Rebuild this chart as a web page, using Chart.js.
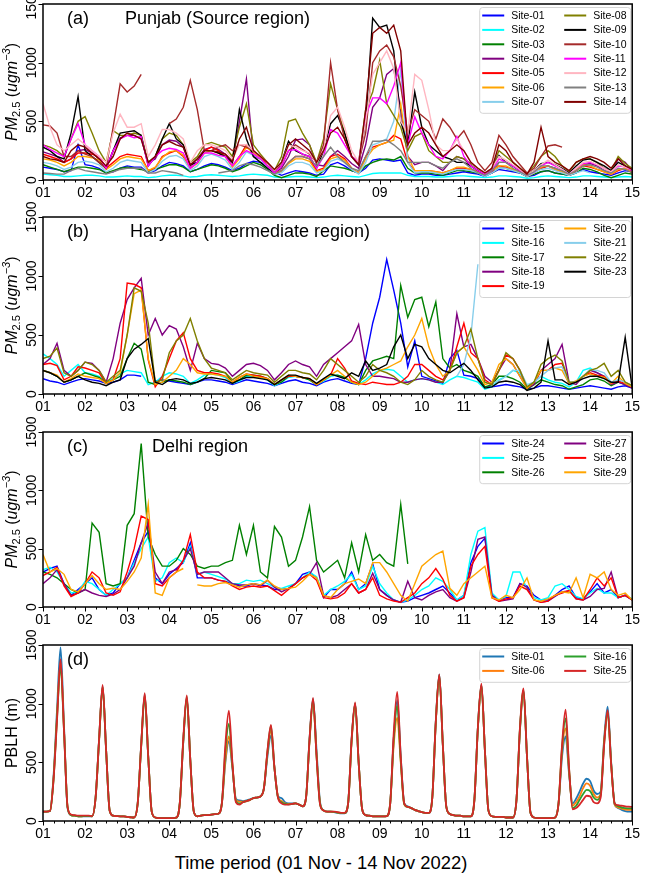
<!DOCTYPE html>
<html>
<head>
<meta charset="utf-8">
<script src="https://cdn.jsdelivr.net/npm/chart.js@4.4.1/dist/chart.umd.min.js"></script>
<style>
  body { margin: 0; background: #fff; width: 645px; height: 875px; position: relative; overflow: hidden; }
  .panel { position: absolute; left: 0; width: 645px; }
  #xtitle { position: absolute; left: 0; top: 852px; width: 642px; text-align: center;
            font: 18.4px "Liberation Sans", Arial, sans-serif; line-height: 22px; color: #000; }
</style>
</head>
<body>
<div class="panel" style="top:-11px;height:213px"><canvas id="chartA"></canvas></div>
<div class="panel" style="top:202px;height:214px"><canvas id="chartB"></canvas></div>
<div class="panel" style="top:417px;height:212px"><canvas id="chartC"></canvas></div>
<div class="panel" style="top:630px;height:213px"><canvas id="chartD"></canvas></div>
<div id="xtitle">Time period (01 Nov - 14 Nov 2022)</div>
<script>
const NA = null;
const DAY_LABELS = ['01', '02', '03', '04', '05', '06', '07', '08', '09', '10', '11', '12', '13', '14', '15'];
const Y_TICKS = [0, 500, 1000, 1500];
// time grid (days): 4-hourly for PM2.5, 2-hourly for PBLH
const T4 = Array.from({length: 85}, (v, i) => 1 + i / 6);
const T2 = Array.from({length: 169}, (v, i) => 1 + i / 12);

// (a) Punjab
const namesA = ['Site-01', 'Site-02', 'Site-03', 'Site-04', 'Site-05', 'Site-06', 'Site-07',
                'Site-08', 'Site-09', 'Site-10', 'Site-11', 'Site-12', 'Site-13', 'Site-14'];
const site01 = [110,100,90,70,80,300, 130,120,100,60,70,100, 120,110,110,60,80,120, 150,140,120,70,90,120,
  140,130,110,80,100,140, 160,150,120,70,40,60, 80,70,60,40,50,130, 150,120,80,60,100,170,
  180,170,160,170,60,40, 50,50,40,40,50,60, 70,60,50,30,60,90, 80,70,60,30,40,70,
  80,60,50,40,60,90, 70,60,50,40,60,80, 70];
const site02 = [50,45,40,30,30,35, 40,40,35,25,25,30, 35,30,30,20,25,35, 40,40,35,25,30,40,
  45,40,35,30,35,45, 50,45,40,25,20,25, 30,30,25,20,25,35, 40,35,30,25,40,55,
  60,60,60,60,40,30, 30,30,25,25,30,35, 35,30,25,20,25,35, 35,30,25,15,20,30,
  35,30,25,20,25,35, 35,30,25,20,25,30, 25];
const site03 = [130,110,90,70,90,110, 110,100,90,60,80,100, 110,100,90,70,90,110, 130,130,110,70,90,110,
  130,120,100,70,90,120, 150,130,90,40,20,40, 60,60,50,30,80,120, 110,100,80,60,120,150,
  170,180,170,200,100,60, 60,60,50,40,60,80, 80,70,60,40,60,100, 100,80,60,30,50,70,
  80,60,50,40,60,100, 90,70,40,20,40,60, 50];
const site04 = [240,220,200,150,180,250, 260,230,180,100,250,360, 380,380,350,150,180,300, 340,330,280,120,180,260,
  280,260,220,150,500,860, 200,180,120,60,100,200, 340,350,300,130,120,200, 250,200,140,100,300,620,
  700,900,950,600,200,130, 150,150,120,80,150,200, 180,120,80,40,60,150, 150,120,80,40,60,100,
  120,100,70,40,80,130, 140,120,80,60,180,150, 80];
const site05 = [220,200,180,150,180,230, 230,220,200,100,150,200, 220,210,200,80,100,200, 230,250,200,100,150,250,
  280,250,200,120,200,300, 250,200,120,60,80,150, 200,200,180,80,100,200, 220,180,100,60,200,280,
  300,320,380,350,150,80, 80,80,70,60,80,100, 100,90,70,40,80,120, 110,90,70,30,60,100,
  120,90,70,40,80,120, 110,90,70,50,80,100, 60];
const site06 = [180,170,150,120,150,200, 200,190,170,90,130,180, 200,190,180,80,110,190, 240,250,210,100,140,230,
  250,230,200,110,180,280, 230,190,110,60,70,140, 180,180,160,70,90,180, 200,170,100,60,180,260,
  300,320,340,650,200,80, 80,80,70,60,80,110, 110,90,70,40,80,120, 120,90,70,30,60,110,
  120,90,70,40,90,130, 120,90,70,50,90,100, 70];
const site07 = [150,140,120,90,110,150, 160,150,130,70,100,150, 170,160,150,60,90,160, 200,210,180,80,120,200,
  220,200,170,90,150,240, 210,180,100,50,60,120, 150,150,130,60,80,160, 180,150,90,50,150,300,
  320,350,500,940,150,60, 70,70,60,50,70,90, 90,80,60,30,60,100, 100,80,60,30,60,90,
  100,80,60,40,60,80, 60,NA,NA,NA,NA,NA, NA];
const site08 = [300,280,250,200,350,500, 540,400,250,150,420,380, 380,400,380,150,200,350, 400,380,300,150,200,300,
  320,300,280,200,450,650, 300,220,150,80,200,500, 520,400,300,150,350,820, 600,400,200,150,600,750,
  1020,650,550,450,250,370, 400,250,200,150,150,200, 180,140,100,60,100,250, 200,150,100,50,120,200,
  250,200,120,70,150,180, 180,150,100,80,200,140, 100];
const site09 = [280,250,200,180,400,710, 250,200,150,100,250,400, 410,420,380,120,200,350, 480,350,300,130,150,250,
  250,230,200,150,600,350, 200,150,100,60,150,330, 250,220,200,100,250,480, 550,400,200,130,500,1380,
  1300,1320,1100,500,300,750, 450,300,250,200,180,150, 150,120,80,50,100,210, 150,120,80,40,80,140,
  150,130,100,60,120,170, 180,150,120,80,150,120, 80];
const site10 = [470,460,400,200,200,250, 220,200,150,100,450,820, 750,800,900,NA,NA,NA, 480,520,620,850,600,250,
  250,280,300,250,300,280, 250,200,150,80,120,250, 300,260,220,150,300,1000, 600,350,200,150,400,1000,
  1100,1150,1050,800,400,600, 550,500,350,520,450,350, 420,300,150,80,150,380, 300,200,130,60,100,200,
  290,300,280,NA,NA,NA, NA,NA,NA,NA,NA,NA, NA];
const site11 = [300,260,230,200,350,480, 300,250,200,100,250,350, 380,360,370,120,200,250, 270,260,230,100,150,230,
  230,210,200,120,200,250, 220,180,120,60,120,250, 260,220,200,100,200,430, 400,300,200,150,550,700,
  700,650,800,1000,300,540, 400,300,200,180,250,370, 200,120,80,50,80,180, 150,120,80,40,70,120,
  150,120,90,50,100,140, 150,130,100,70,120,110, 80];
const site12 = [650,450,300,250,300,350, 300,250,200,150,400,560, 450,450,480,200,300,430, 430,400,350,150,250,300,
  300,280,250,180,300,300, 250,200,150,80,150,300, 280,250,230,150,250,550, 620,450,250,150,500,900,
  1000,1100,950,500,400,900, 850,600,300,250,250,350, 250,150,100,60,100,200, 170,130,90,40,80,130,
  170,130,90,50,100,150, 160,130,100,70,130,110, 90];
const site13 = [60,55,50,50,80,100, 80,70,60,50,70,90, 100,100,100,60,60,80, 70,60,40,NA,NA,NA,
  NA,60,70,80,120,140, 130,110,80,50,80,150, 200,200,180,120,200,280, 200,150,100,80,200,330,
  330,340,300,250,150,150, 150,150,120,100,150,180, 150,100,60,40,80,150, 150,100,70,40,70,120,
  120,100,80,50,80,120, 130,110,80,60,100,90, 60];
const site14 = [200,180,170,150,250,300, 280,230,180,120,200,350, 400,380,350,150,200,300, 330,300,280,130,180,250,
  250,240,220,160,350,450, 250,200,150,90,150,300, 350,300,250,150,250,400, 450,350,200,130,600,1250,
  1300,1250,1320,1100,300,400, 450,400,300,200,250,300, 250,150,100,60,100,300, 250,150,100,50,150,450,
  200,150,120,80,150,180, 200,180,150,100,180,120, 90];

// (b) Haryana
const namesB = ['Site-15', 'Site-16', 'Site-17', 'Site-18', 'Site-19', 'Site-20', 'Site-21', 'Site-22', 'Site-23'];
const site15 = [130,110,100,80,100,120, 130,120,110,90,100,120, 160,160,150,NA,110,120, 110,100,90,80,100,120,
  120,110,100,80,100,120, 110,100,90,70,90,110, 120,100,90,70,100,120, 130,110,90,80,300,600,
  820,1140,880,600,230,450, 150,130,110,90,300,370, 160,150,130,60,60,70, 80,70,60,40,50,70,
  70,60,50,40,50,60, 70,60,50,40,60,70, 50];
const site16 = [340,300,250,150,200,250, 180,170,150,100,130,170, 200,190,180,80,100,150, 180,170,150,90,120,160,
  170,160,140,90,110,150, 150,140,120,70,100,140, 150,140,120,80,110,150, 160,140,100,80,120,170,
  200,210,200,150,100,120, 130,120,100,80,120,150, 140,120,100,40,60,120, 150,200,180,60,100,150,
  120,100,90,60,100,200, 220,180,150,100,NA,NA, NA];
const site17 = [200,180,150,100,120,150, 180,160,140,90,120,150, 300,430,380,100,80,100, 120,110,100,80,100,130,
  200,190,180,100,120,160, 160,150,130,80,100,150, 150,140,120,80,120,160, 160,140,100,80,200,280,
  300,320,300,920,650,800, 820,570,780,300,220,250, 200,180,150,60,80,150, 150,130,100,40,80,120,
  100,80,70,40,60,80, 120,130,110,70,100,80, 60];
const site18 = [250,300,430,200,150,200, 270,260,200,100,300,600, 800,900,980,500,640,500, 580,550,400,200,430,300,
  260,250,220,150,200,250, 260,240,200,120,180,250, 280,250,230,150,250,300, 350,400,450,590,250,150,
  150,140,130,100,100,120, 130,120,100,100,200,680, 400,420,300,150,100,200, 300,250,150,50,80,200,
  250,300,420,100,80,150, 200,180,150,80,100,80, 50];
const site19 = [250,260,240,120,150,230, 220,200,180,90,120,300, 940,930,900,290,60,150, 300,450,520,300,200,180,
  180,170,150,100,140,170, 160,150,130,80,120,150, 150,140,130,80,120,160, 300,220,110,90,80,100,
  90,80,80,100,150,250, 250,200,150,120,200,400, 600,350,300,120,80,200, 330,300,200,50,100,200,
  200,250,260,80,100,150, 180,160,150,90,110,90, 60];
const site20 = [200,180,160,100,130,170, 150,140,130,90,120,180, 500,850,880,300,80,100, 150,200,300,250,180,170,
  170,160,150,100,140,170, 150,140,130,80,120,160, 150,140,130,80,120,160, 200,150,100,80,100,150,
  200,220,250,280,400,500, 640,400,250,150,200,350, 400,300,200,80,100,250, 300,250,150,50,100,200,
  200,220,200,90,110,150, 170,150,140,90,150,90, 60];
const site21 = [NA,NA,NA,NA,NA,NA, NA,NA,NA,NA,NA,NA, NA,NA,NA,NA,NA,NA, NA,NA,NA,NA,NA,NA,
  NA,NA,NA,NA,NA,NA, NA,NA,NA,NA,NA,NA, NA,NA,NA,NA,NA,NA, NA,NA,NA,NA,NA,NA,
  NA,NA,NA,NA,NA,NA, NA,NA,NA,NA,NA,150, 250,490,1100,NA,90,110, 150,200,200,80,100,150,
  200,220,230,100,100,150, 210,200,180,100,120,100, 70];
const site22 = [300,320,390,180,150,200, 270,250,200,100,150,200, 500,900,870,600,100,120, 350,450,500,640,450,300,
  220,200,180,120,160,200, 180,170,160,100,150,200, 200,180,170,120,200,300, 250,200,150,100,150,250,
  200,180,150,100,80,120, 200,150,120,100,200,350, 400,550,300,100,80,200, 350,300,200,60,100,250,
  300,330,280,100,100,150, 200,220,260,150,200,100, 70];
const site23 = [200,180,150,100,120,150, 120,100,90,70,100,120, 300,380,420,470,100,80, 120,130,120,90,100,130,
  140,130,120,90,120,140, 140,130,120,80,120,160, 160,140,130,90,130,170, 150,130,180,150,280,200,
  220,250,400,500,300,420, 400,300,250,200,180,220, 260,200,120,50,60,100, 110,100,80,30,50,100,
  450,120,120,80,100,130, 150,150,130,100,100,480, 50];

// (c) Delhi
const namesC = ['Site-24', 'Site-25', 'Site-26', 'Site-27', 'Site-28', 'Site-29'];
const site24 = [300,330,350,200,100,150, 200,250,150,100,120,200, 250,400,550,650,250,200, 280,330,380,550,250,250,
  250,230,220,200,180,180, 200,190,180,150,150,160, 200,280,300,250,80,150, 150,200,300,150,200,370,
  150,100,60,40,50,80, 100,120,150,180,120,60, 100,380,520,590,100,60, 80,80,200,180,100,60,
  60,100,150,180,80,70, 130,200,120,150,80,100, 60];
const site25 = [320,340,300,200,120,130, 220,200,150,100,150,200, 250,380,500,600,220,250, 380,420,380,520,280,300,
  280,260,240,200,200,230, 220,230,200,170,160,180, 200,250,300,260,100,150, 180,220,280,150,180,350,
  200,120,60,40,60,100, 150,180,250,220,150,60, 100,450,650,680,120,60, 90,300,300,150,80,60,
  80,180,200,150,90,70, 120,160,120,120,80,100, 70];
const site26 = [300,280,250,200,150,120, 150,720,640,200,180,200, 700,800,1400,600,450,350, 350,400,500,450,350,330,
  350,350,380,400,700,450, 700,300,250,690,600,350, 400,600,860,400,300,350, 400,250,550,300,620,400,
  450,380,350,880,370,NA, NA,NA,NA,NA,NA,NA, NA,NA,NA,NA,NA,NA, NA,NA,NA,NA,NA,NA,
  NA,NA,NA,NA,NA,NA, NA,NA,NA,NA,NA,NA, NA];
const site27 = [200,250,320,200,100,120, 150,120,100,90,110,150, 250,350,550,720,300,200, 300,320,400,500,280,300,
  300,300,250,200,190,190, 200,180,230,170,130,160, 200,250,280,380,100,80, 100,150,200,120,150,290,
  150,100,60,40,220,80, 60,100,130,150,80,50, 80,300,580,600,100,50, 60,70,200,170,60,40,
  50,90,130,140,70,60, 90,150,160,300,80,100, 60];
const site28 = [270,300,340,180,90,120, 200,300,250,120,100,130, 300,500,780,750,200,180, 250,300,400,620,300,250,
  250,230,220,180,150,170, 180,170,180,140,100,150, 200,250,280,230,80,70, 80,120,200,120,150,250,
  100,70,50,40,80,120, 200,250,330,240,100,50, 80,350,450,520,80,50, 70,80,180,150,60,40,
  50,100,120,140,70,60, 150,250,180,250,80,100, 60];
const site29 = [450,300,330,280,150,130, 200,270,200,150,160,150, 220,300,420,880,120,100, 250,300,330,NA,190,180,
  180,200,210,190,170,190, 200,190,230,180,150,160, 170,220,280,250,100,80, 150,200,220,240,200,380,
  380,300,200,100,50,200, 350,400,450,480,160,100, 200,250,300,350,80,60, 100,80,150,250,60,50,
  70,100,130,120,250,80, 280,250,300,150,100,120, 60];

// (d) PBLH (m), 2-hourly
const namesD = ['Site-01', 'Site-06', 'Site-16', 'Site-25'];
const pbl01 = [80,80,85,380,950,1480,800,110,50,45,40,40, 40,40,40,200,700,1150,600,90,45,42,40,40,
  35,32,30,150,650,1080,550,80,30,25,25,25, 25,25,28,150,680,1050,520,80,40,45,50,50,
  55,58,62,150,500,680,450,190,175,170,175,185, 195,200,210,280,550,730,450,210,195,160,150,150,
  150,140,125,200,700,1040,600,160,90,80,80,75, 70,65,65,150,700,1000,500,100,50,45,40,40,
  40,40,42,150,700,1030,550,150,125,110,95,85, 75,70,70,200,850,1250,650,120,60,50,45,45,
  40,40,40,180,800,1160,600,90,40,35,35,35, 30,30,30,180,780,1110,550,70,30,25,25,25,
  25,25,28,150,550,720,400,150,190,250,320,360, 340,260,230,250,700,975,500,140,110,95,85,80, 80];
const pbl06 = [80,80,85,360,900,1350,780,120,50,45,40,40, 42,42,40,200,690,1140,600,90,45,42,40,40,
  35,32,30,150,640,1070,550,80,30,25,25,25, 25,25,28,150,680,1040,520,80,40,45,50,50,
  55,58,62,150,520,720,470,180,165,165,170,180, 195,200,210,280,580,775,450,205,170,150,145,145,
  150,140,125,200,680,1020,560,150,90,80,80,78, 72,68,68,150,680,990,500,100,50,45,40,40,
  40,40,42,150,650,880,500,140,120,110,95,85, 75,70,70,200,840,1230,650,120,60,50,45,45,
  40,40,40,180,790,1150,600,90,40,35,35,35, 30,30,30,180,780,1100,550,70,30,25,25,25,
  25,25,28,150,600,790,420,130,160,210,280,320, 300,230,200,230,680,920,480,140,115,105,98,94, 94];
const pbl16 = [80,80,85,350,880,1320,760,120,50,45,40,40, 42,42,40,200,690,1140,600,90,45,42,40,40,
  35,32,30,150,640,1060,550,80,30,25,25,25, 25,25,28,150,680,1060,520,80,40,45,50,50,
  55,58,62,150,600,830,480,170,150,160,170,180, 195,200,210,280,590,810,450,200,160,145,142,145,
  150,140,125,200,690,1030,550,145,90,80,80,78, 72,68,68,150,690,1000,500,100,50,45,40,40,
  40,40,42,150,700,980,520,145,120,110,95,85, 75,70,70,200,845,1240,650,120,60,50,45,45,
  40,40,40,180,795,1160,600,90,40,35,35,35, 30,30,30,180,790,1115,550,70,30,25,25,25,
  25,25,28,150,630,875,440,110,130,180,230,265, 255,200,180,220,660,930,490,150,125,115,110,108, 108];
const pbl25 = [80,80,85,350,860,1380,760,120,55,50,45,45, 45,45,42,200,700,1160,600,90,45,42,40,40,
  35,32,30,150,650,1090,550,80,30,25,25,25, 25,25,28,150,700,1070,520,80,40,45,50,50,
  55,58,62,150,650,940,500,160,140,160,170,180, 195,200,210,280,600,820,450,200,150,140,140,145,
  150,140,125,200,700,1050,550,140,90,80,80,80, 75,70,70,150,700,1010,500,100,50,45,40,40,
  40,40,42,150,750,1100,550,150,120,110,95,85, 75,70,70,200,850,1250,650,120,60,50,45,45,
  40,40,40,180,800,1170,600,90,40,35,35,35, 30,30,30,180,800,1130,550,70,30,25,25,25,
  25,25,28,150,650,950,450,100,110,140,180,215, 210,160,150,200,650,945,480,150,135,130,125,122, 120];

const colorsA = ['#0000ff', '#00ffff', '#008000', '#800080', '#ff0000', '#ffa500', '#87ceeb',
                 '#808000', '#000000', '#a52a2a', '#ff00ff', '#ffb6c1', '#808080', '#800000'];
const colorsB = ['#0000ff', '#00ffff', '#008000', '#800080', '#ff0000', '#ffa500', '#87ceeb', '#808000', '#000000'];
const colorsC = ['#0000ff', '#00ffff', '#008000', '#800080', '#ff0000', '#ffa500'];
const colorsD = ['#1f77b4', '#ff7f0e', '#2ca02c', '#d62728'];

const FONT = '"Liberation Sans", Arial, Helvetica, sans-serif';
Chart.defaults.font.family = FONT;
Chart.defaults.color = '#000';

// frame, ticks, rotated y labels, panel titles and the in-plot legend (matplotlib look)
const decor = {
  id: 'decor',
  afterDraw(chart, args, o) {
    const {ctx, chartArea: a, scales: {x, y}} = chart;
    ctx.save();
    ctx.strokeStyle = '#000';
    ctx.fillStyle = '#000';

    // ticks
    ctx.lineWidth = 1;
    ctx.beginPath();
    for (let k = 0; k <= 56; k++) {
      const px = Math.round(x.getPixelForValue(1 + k / 4)) + 0.5;
      ctx.moveTo(px, a.bottom);
      ctx.lineTo(px, a.bottom + (k % 4 ? 2.5 : 4.5));
    }
    Y_TICKS.forEach(v => {
      const py = Math.round(y.getPixelForValue(v)) + 0.5;
      ctx.moveTo(a.left, py);
      ctx.lineTo(a.left - 4.5, py);
    });
    ctx.stroke();

    // y tick labels, rotated
    ctx.font = '14px ' + FONT;
    ctx.textAlign = 'center';
    ctx.textBaseline = 'middle';
    Y_TICKS.forEach(v => {
      ctx.save();
      ctx.translate(a.left - 11, y.getPixelForValue(v));
      ctx.rotate(-Math.PI / 2);
      ctx.fillText(String(v), 0, 0);
      ctx.restore();
    });

    // y title
    const cy = (a.top + a.bottom) / 2;
    ctx.save();
    ctx.translate(11, cy);
    ctx.rotate(-Math.PI / 2);
    ctx.textAlign = 'left';
    ctx.textBaseline = 'alphabetic';
    let parts;
    if (o.ytitle === 'pm') {
      parts = [
        {t: 'PM', f: 'italic 16px ', dy: 0},
        {t: '2.5', f: '11px ', dy: 3.5},
        {t: ' (', f: '16px ', dy: 0},
        {t: 'ugm', f: 'italic 16px ', dy: 0},
        {t: '\u22123', f: 'italic 11px ', dy: -7},
        {t: ')', f: '16px ', dy: 0}
      ];
    } else {
      parts = [{t: o.ytitle, f: '16px ', dy: 0}];
    }
    let w = 0;
    parts.forEach(p => { ctx.font = p.f + FONT; p.w = ctx.measureText(p.t).width; w += p.w; });
    let cx = -w / 2;
    parts.forEach(p => { ctx.font = p.f + FONT; ctx.fillText(p.t, cx, 5.5 + p.dy); cx += p.w; });
    ctx.restore();

    // panel label and title
    ctx.font = '18px ' + FONT;
    ctx.textAlign = 'left';
    ctx.textBaseline = 'middle';
    ctx.fillText(o.tag, a.left + 24, a.top + 15);
    if (o.title) ctx.fillText(o.title, o.titleX, a.top + 15);

    // legend, two columns
    const ds = chart.data.datasets;
    const rows = Math.ceil(ds.length / 2);
    const bx = a.right - 153, by = a.top + 3, bw = 151, bh = rows * 14.4 + 5;
    ctx.beginPath();
    ctx.roundRect(bx + 0.5, by + 0.5, bw, bh, 3);
    ctx.fillStyle = 'rgba(255,255,255,0.85)';
    ctx.fill();
    ctx.strokeStyle = '#d4d4d4';
    ctx.stroke();
    ctx.font = '10.5px ' + FONT;
    ds.forEach((d, k) => {
      const col = k < rows ? 0 : 1;
      const r = col ? k - rows : k;
      const ly = by + 8.5 + r * 14.4;
      const lx = bx + 3 + col * 82;
      ctx.strokeStyle = d.borderColor;
      ctx.lineWidth = 2;
      ctx.beginPath();
      ctx.moveTo(lx, ly);
      ctx.lineTo(lx + 22, ly);
      ctx.stroke();
      ctx.fillStyle = '#000';
      ctx.fillText(d.label, lx + 29, ly + 0.5);
    });

    // frame
    ctx.strokeStyle = '#000';
    ctx.lineWidth = 1.5;
    ctx.strokeRect(a.left, a.top, a.right - a.left, a.bottom - a.top);
    ctx.restore();
  }
};

function panel(id, times, names, series, colors, width, deco, smooth) {
  return new Chart(document.getElementById(id), {
    type: 'line',
    data: {
      labels: times,
      datasets: series.map((s, i) => ({
        label: names[i],
        data: s,
        borderColor: colors[i],
        backgroundColor: colors[i],
        borderWidth: width,
        pointRadius: 0,
        fill: false,
        spanGaps: false,
        tension: smooth ? 0.4 : 0,
        cubicInterpolationMode: smooth ? 'monotone' : 'default',
        order: series.length - i
      }))
    },
    options: {
      animation: false,
      responsive: true,
      maintainAspectRatio: false,
      layout: {padding: {top: 15, right: 10, left: 0, bottom: 0}},
      plugins: {legend: {display: false}, tooltip: {enabled: false}, decor: deco},
      scales: {
        x: {
          type: 'linear', min: 1, max: 15,
          afterFit: s => { s.height = 22; },
          grid: {display: false, drawTicks: false},
          border: {display: false},
          ticks: {stepSize: 1, autoSkip: false, maxRotation: 0, padding: 5, font: {size: 14},
                  callback: v => DAY_LABELS[Math.round(v) - 1]}
        },
        y: {
          min: 0, max: 1500,
          afterFit: s => { s.width = 43; },
          grid: {display: false, drawTicks: false},
          border: {display: false},
          ticks: {display: false, stepSize: 500}
        }
      }
    },
    plugins: [decor]
  });
}

panel('chartA', T4, namesA,
  [site01, site02, site03, site04, site05, site06, site07, site08, site09, site10, site11, site12, site13, site14],
  colorsA, 1.4, {tag: '(a)', title: 'Punjab (Source region)', titleX: 125, ytitle: 'pm'}, false);
panel('chartB', T4, namesB,
  [site15, site16, site17, site18, site19, site20, site21, site22, site23],
  colorsB, 1.4, {tag: '(b)', title: 'Haryana (Intermediate region)', titleX: 130, ytitle: 'pm'}, false);
panel('chartC', T4, namesC,
  [site24, site25, site26, site27, site28, site29],
  colorsC, 1.4, {tag: '(c)', title: 'Delhi region', titleX: 152, ytitle: 'pm'}, false);
panel('chartD', T2, namesD,
  [pbl01, pbl06, pbl16, pbl25],
  colorsD, 1.8, {tag: '(d)', title: '', titleX: 0, ytitle: 'PBLH (m)'}, true);
</script>
</body>
</html>
